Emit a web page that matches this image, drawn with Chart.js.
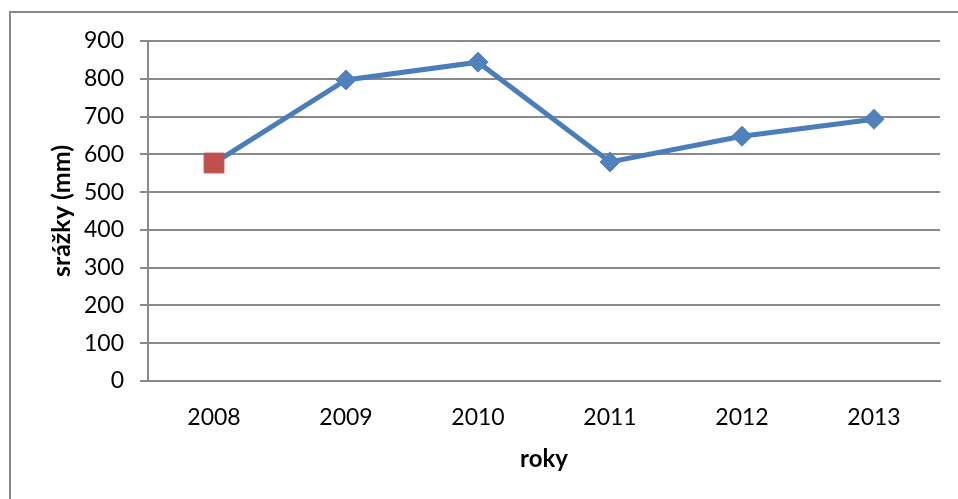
<!DOCTYPE html>
<html>
<head>
<meta charset="utf-8">
<script src="https://cdn.jsdelivr.net/npm/chart.js@4/dist/chart.umd.min.js"></script>
<style>
  html, body { margin: 0; padding: 0; background: #fff; }
  #wrap { position: relative; width: 958px; height: 499px; }
</style>
</head>
<body>
<div id="wrap"><canvas id="myChart" width="958" height="499"></canvas></div>
<script>
const years = ["2008", "2009", "2010", "2011", "2012", "2013"];
const rainfall = [577, 797, 844, 580, 648, 693];
const markerStyles = ["rect", "rectRot", "rectRot", "rectRot", "rectRot", "rectRot"];
const markerColors = ["#C0504D", "#4F81BD", "#4F81BD", "#4F81BD", "#4F81BD", "#4F81BD"];
const markerSizes = [14, 10, 10, 10, 10, 10];

const gridGray = "#8a8a8a";
const font = "Lato";

// outer frame of the chart object
const frame = {
  id: "frame",
  beforeDraw(chart) {
    const ctx = chart.ctx;
    ctx.save();
    ctx.fillStyle = "#fff";
    ctx.fillRect(0, 0, chart.width, chart.height);
    ctx.strokeStyle = gridGray;
    ctx.lineWidth = 2;
    ctx.strokeRect(10, 12, chart.width + 10, chart.height + 10);
    ctx.restore();
  }
};

new Chart(document.getElementById("myChart"), {
  type: "line",
  data: {
    labels: years,
    datasets: [{
      data: rainfall,
      borderColor: "#4A7EBB",
      borderWidth: 5,
      tension: 0,
      pointStyle: markerStyles,
      pointRadius: markerSizes,
      pointHoverRadius: markerSizes,
      pointBackgroundColor: markerColors,
      pointBorderColor: markerColors,
      pointBorderWidth: 1
    }]
  },
  options: {
    responsive: false,
    animation: false,
    events: [],
    layout: { padding: { left: 0, top: 41, right: 18, bottom: 0 } },
    plugins: { legend: { display: false }, tooltip: { enabled: false } },
    scales: {
      x: {
        offset: true,
        grid: { display: false, drawTicks: false },
        border: { display: true, color: gridGray, width: 2 },
        ticks: { color: "#000", padding: 23, font: { family: font, size: 23 } },
        title: {
          display: true, text: "roky", color: "#000",
          font: { family: font, size: 24, weight: "bold" },
          padding: { top: 0, bottom: 25 }
        },
        afterFit(scale) { scale.height = 118; }
      },
      y: {
        min: 0,
        max: 900,
        ticks: { stepSize: 100, color: "#000", padding: 16, font: { family: font, size: 23 } },
        grid: { color: gridGray, lineWidth: 2, tickLength: 8, drawTicks: true },
        border: { display: true, color: gridGray, width: 2 },
        title: {
          display: true, text: "srážky (mm)", color: "#000",
          font: { family: font, size: 25, weight: "bold" },
          padding: { top: 47, bottom: 0 }
        },
        afterFit(scale) { scale.width = 148; }
      }
    }
  },
  plugins: [frame]
});
</script>
</body>
</html>
